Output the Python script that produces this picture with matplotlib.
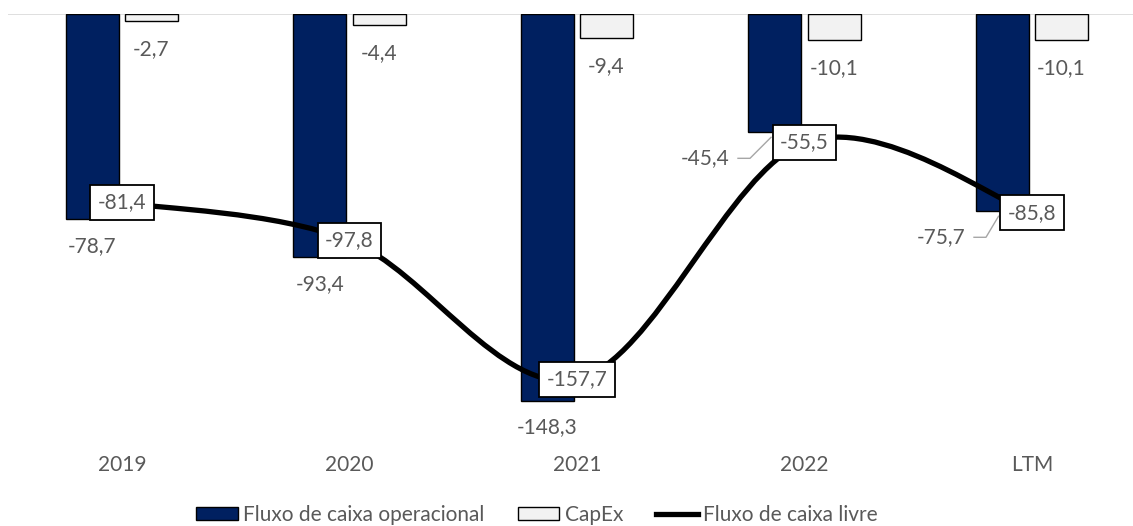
import matplotlib.pyplot as plt
import numpy as np
from matplotlib.path import Path
from matplotlib.patches import PathPatch, Patch
from matplotlib.lines import Line2D

plt.rcParams['font.family'] = ['Lato', 'DejaVu Sans']

periodos = ['2019', '2020', '2021', '2022', 'LTM']
fco = [-78.7, -93.4, -148.3, -45.4, -75.7]
capex = [-2.7, -4.4, -9.4, -10.1, -10.1]
fcl = [-81.4, -97.8, -157.7, -55.5, -85.8]

azul = '#002060'
cinza_txt = '#595959'
fs = 15

fig = plt.figure(figsize=(11.33, 5.26), dpi=100)
ax = fig.add_axes([8.25 / 1133, 95 / 526, 1137.5 / 1133, 417 / 526])
ax2 = ax.twinx()

x = np.arange(len(periodos))
w = 0.233
dx = 0.1297

ax.bar(x - dx, fco, w, color=azul, edgecolor='black', linewidth=1.0, zorder=2)
ax.bar(x + dx, capex, w, color='#f2f2f2', edgecolor='black', linewidth=1.0, zorder=2)
ax.axhline(0, color='#d9d9d9', lw=1.2, zorder=1)

ax.set_xlim(-0.5, len(periodos) - 0.5)
ax.set_ylim(-160, 0)
ax2.set_ylim(-180, 0)

for a in (ax, ax2):
    for s in a.spines.values():
        s.set_visible(False)
    a.set_yticks([])
ax.set_xticks(x)
ax.set_xticklabels(periodos, fontsize=fs, color=cinza_txt)
ax.tick_params(axis='x', length=0, pad=17.5)


def fmt(v):
    return f'{v:.1f}'.replace('.', ',')


# rótulos das barras
for i, v in enumerate(capex):
    ax.annotate(fmt(v), (i + dx, v), xytext=(0, -28), textcoords='offset pixels',
                ha='center', va='center', fontsize=fs, color=cinza_txt, zorder=5)

desloc = {3: (-70, -26), 4: (-61.5, -26)}
for i, v in enumerate(fco):
    if i in desloc:
        ox, oy = desloc[i]
        ax.annotate(fmt(v), (i - dx, v), xytext=(ox, oy), textcoords='offset pixels',
                    ha='center', va='center', fontsize=fs, color=cinza_txt, zorder=5)
        # linha guia
        bx, by = ax.transData.transform((i - dx, v))
        pts = np.array([[bx + ox + 33, by + oy], [bx + ox + 45, by + oy],
                        [bx - 4, by - 5]])
        pts = ax.transData.inverted().transform(pts)
        ax.plot(pts[:, 0], pts[:, 1], color='#a6a6a6', lw=1.0, zorder=4)
    else:
        ax.annotate(fmt(v), (i - dx, v), xytext=(0, -27), textcoords='offset pixels',
                    ha='center', va='center', fontsize=fs, color=cinza_txt, zorder=5)

# linha suavizada do fluxo livre
p = np.column_stack([x, fcl]).astype(float)
n = len(p)
verts = [p[0]]
codes = [Path.MOVETO]
for i in range(n - 1):
    p0 = p[max(i - 1, 0)]
    p1 = p[i]
    p2 = p[i + 1]
    p3 = p[min(i + 2, n - 1)]
    c1 = p1 + (p2 - p0) / 6
    c2 = p2 - (p3 - p1) / 6
    verts += [c1, c2, p2]
    codes += [Path.CURVE4] * 3
ax2.add_patch(PathPatch(Path(verts, codes), facecolor='none', edgecolor='black',
                        lw=3.8, capstyle='round', joinstyle='round', zorder=3))

for i, v in enumerate(fcl):
    ax2.text(i, v, fmt(v), ha='center', va='center', fontsize=fs, color=cinza_txt, zorder=6,
             bbox=dict(boxstyle='square,pad=0.36', facecolor='white', edgecolor='black', lw=1.3))

handles = [Patch(facecolor=azul, edgecolor='black', lw=1.0),
           Patch(facecolor='#f2f2f2', edgecolor='black', lw=1.0),
           Line2D([0], [0], color='black', lw=3.8)]
labels = ['Fluxo de caixa operacional', 'CapEx', 'Fluxo de caixa livre']
leg = fig.legend(handles, labels, loc='center', bbox_to_anchor=(0.474, 0.021), ncol=3,
                 frameon=False, fontsize=fs, handlelength=2.0, handletextpad=0.25,
                 columnspacing=1.6, handleheight=0.6, borderaxespad=0)
for t in leg.get_texts():
    t.set_color(cinza_txt)

fig.savefig('out.png', dpi=100)
